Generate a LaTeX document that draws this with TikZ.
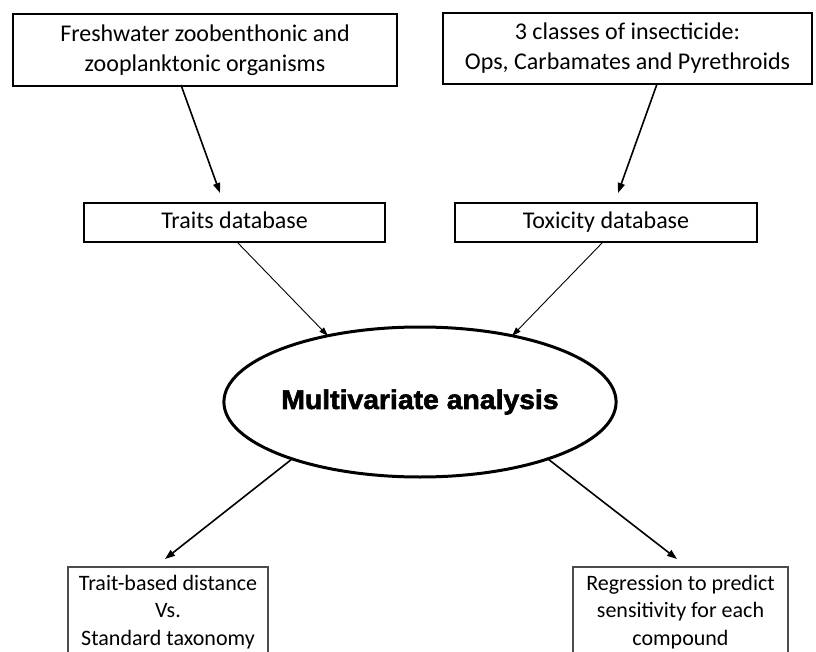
\documentclass[tikz,border=0pt]{standalone}
\usepackage{fontspec}
\setmainfont{Carlito}
\newfontfamily\blackfont{Liberation Sans}[BoldFeatures={FakeStretch=1.05,FakeBold=2.2}]
\usetikzlibrary{arrows.meta,shapes.geometric}
\tikzset{
  topbox/.style={draw=black, line width=2pt, rectangle, inner sep=0pt, align=center,
    font=\fontsize{24}{30}\selectfont},
  dbbox/.style={draw=black, line width=2pt, rectangle, inner sep=0pt, align=center,
    text height=17pt, text depth=5pt, font=\fontsize{24}{30}\selectfont},
  outbox/.style={draw=black!70, line width=1.3pt, rectangle, inner sep=0pt, align=center,
    font=\fontsize{22}{27.5}\selectfont},
  arrbig/.style={-{Triangle[length=10pt,width=7pt]}, line width=1.6pt},
  arrthin/.style={-{Triangle[length=9pt,width=6pt]}, line width=0.9pt},
}
\begin{document}
\begin{tikzpicture}[x=1pt,y=-1pt]
\useasboundingbox (0,0) rectangle (816,652);
\clip (0,0) rectangle (816,652);
\fill[white] (0,0) rectangle (816,652);

\node[topbox, minimum width=384pt, minimum height=72pt] (b1) at (205,50)
  {Freshwater zoobenthonic and\\zooplanktonic organisms};
\node[topbox, minimum width=369pt, minimum height=71pt] (b2) at (627.5,48.5)
  {3 classes of insecticide:\\Ops, Carbamates and Pyrethroids};

\node[dbbox, minimum width=301pt, minimum height=39pt] (traits) at (234.5,222.5) {Traits database};
\node[dbbox, minimum width=302pt, minimum height=39pt] (tox) at (606,222.5) {Toxicity database};

\node[ellipse, draw=black, line width=3pt, minimum width=384pt, minimum height=150pt, inner sep=0pt,
  font=\blackfont\bfseries\fontsize{27}{30}\selectfont] (ma) at (420,402) {Multivariate analysis};

\node[outbox, minimum width=200pt, minimum height=90pt] (bl) at (168,612)
  {Trait-based distance\\Vs.\\Standard taxonomy};
\node[outbox, minimum width=215pt, minimum height=90pt] (br) at (680.5,612)
  {Regression to predict\\sensitivity for each\\compound};

\coordinate (a1s) at (181,85);   \coordinate (a1e) at (220,193);
\coordinate (a2s) at (657,84);   \coordinate (a2e) at (618,193);
\coordinate (a3s) at (237,242);  \coordinate (a3e) at (328,336);
\coordinate (a4s) at (603,242);  \coordinate (a4e) at (512,336);
\coordinate (a5s) at (292,459);  \coordinate (a5e) at (165,559);
\coordinate (a6s) at (548,459);  \coordinate (a6e) at (677,559);

\draw[arrbig] (a1s) -- (a1e);
\draw[arrbig] (a2s) -- (a2e);
\draw[arrthin] (a3s) -- (a3e);
\draw[arrthin] (a4s) -- (a4e);
\draw[arrbig] (a5s) -- (a5e);
\draw[arrbig] (a6s) -- (a6e);
\end{tikzpicture}
\end{document}
